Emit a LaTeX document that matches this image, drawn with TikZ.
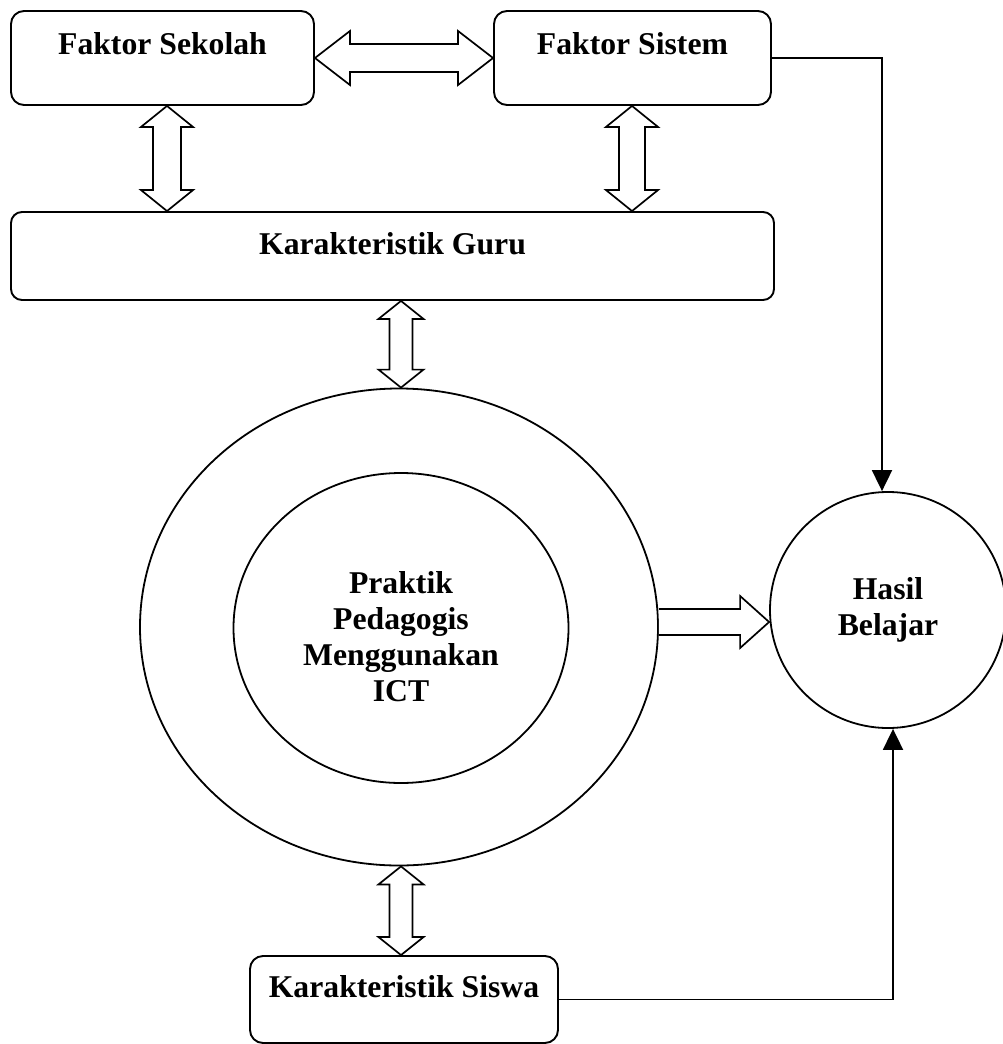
\documentclass[tikz,border=0pt]{standalone}
\usepackage{fontspec}
\setmainfont{Liberation Serif}
\usetikzlibrary{arrows.meta,shapes.geometric,calc}
\newcommand\lbl{\fontsize{31.7}{36}\selectfont\bfseries}
% vertical double block arrow: #1 top point, #2 bottom point, #3 shaft half, #4 head half, #5 head length
\newcommand\BlkVD[5]{%
  \draw[blk] let \p1=#1, \p2=#2 in
   (\x1,\y1) -- (\x1+#4,\y1-#5) -- (\x1+#3,\y1-#5) -- (\x1+#3,\y2+#5) -- (\x1+#4,\y2+#5)
   -- (\x1,\y2) -- (\x1-#4,\y2+#5) -- (\x1-#3,\y2+#5) -- (\x1-#3,\y1-#5) -- (\x1-#4,\y1-#5) -- cycle;}
% horizontal double block arrow: #1 left point, #2 right point
\newcommand\BlkHD[5]{%
  \draw[blk] let \p1=#1, \p2=#2 in
   (\x1,\y1) -- (\x1+#5,\y1+#4) -- (\x1+#5,\y1+#3) -- (\x2-#5,\y1+#3) -- (\x2-#5,\y1+#4)
   -- (\x2,\y1) -- (\x2-#5,\y1-#4) -- (\x2-#5,\y1-#3) -- (\x1+#5,\y1-#3) -- (\x1+#5,\y1-#4) -- cycle;}
% horizontal single block arrow pointing right
\newcommand\BlkHS[5]{%
  \draw[blk] let \p1=#1, \p2=#2 in
   (\x1,\y1+#3) -- (\x2-#5,\y1+#3) -- (\x2-#5,\y1+#4) -- (\x2,\y1)
   -- (\x2-#5,\y1-#4) -- (\x2-#5,\y1-#3) -- (\x1,\y1-#3);}
\begin{document}
\begin{tikzpicture}[x=1pt,y=-1pt,
  box/.style={draw, line width=1.9pt, rounded corners=13pt, font=\lbl, inner sep=0pt},
  ring/.style={draw, ellipse, line width=1.8pt, inner sep=0pt},
  blk/.style={draw, line width=1.7pt, fill=white, line join=miter},
  conn/.style={draw, line width=1.9pt, -{Triangle[width=20pt,length=21pt]}}]
\useasboundingbox (0,0) rectangle (1002,1044);

\node[box, minimum width=303pt, minimum height=94pt, text height=22pt, text depth=30pt] (fs) at (162.5,58) {Faktor Sekolah};
\node[box, minimum width=277pt, minimum height=94pt, text height=22pt, text depth=30pt] (fst) at (632.5,58) {Faktor Sistem};
\node[box, minimum width=763pt, minimum height=88pt, text height=22pt, text depth=26pt, rounded corners=11pt] (kg) at (392.5,256) {Karakteristik Guru};
\node[box, minimum width=308pt, minimum height=87pt, text height=22pt, text depth=27pt] (ks) at (404,999.5) {Karakteristik Siswa};

\node[ring, minimum width=518pt, minimum height=477pt] (oc) at (399,627) {};
\node[ring, minimum width=335pt, minimum height=310pt,
  label={[font=\lbl, align=center, yshift=-9pt]center:{Praktik\\Pedagogis\\Menggunakan\\ICT}}] (ic) at (401,628) {};
\node[ring, circle, minimum size=236pt, font=\lbl, align=center] (hb) at (888,610) {Hasil\\Belajar};

\coordinate (xl) at (167,0);
\coordinate (xr) at (632,0);
\coordinate (xm) at (401,0);
\coordinate (yh) at (0,622);
\coordinate (xt) at (882,0);
\coordinate (xb) at (893,0);

\BlkHD{(fs.east)}{(fst.west)}{14pt}{27pt}{35pt}
\BlkVD{(xl |- fs.south)}{(xl |- kg.north)}{14pt}{26pt}{21pt}
\BlkVD{(xr |- fst.south)}{(xr |- kg.north)}{13pt}{26pt}{21pt}
\BlkVD{(xm |- kg.south)}{(xm |- oc.north)}{11.5pt}{22.5pt}{18pt}
\BlkVD{(xm |- oc.south)}{(xm |- ks.north)}{11.5pt}{22.5pt}{18pt}
\BlkHS{(oc.east |- yh)}{(hb.west |- yh)}{13pt}{26pt}{29pt}

\draw[conn] (fst.east) -| (xt |- hb.north);
\draw[conn] (ks.east) -| (xb |- hb.south);
\end{tikzpicture}
\end{document}
